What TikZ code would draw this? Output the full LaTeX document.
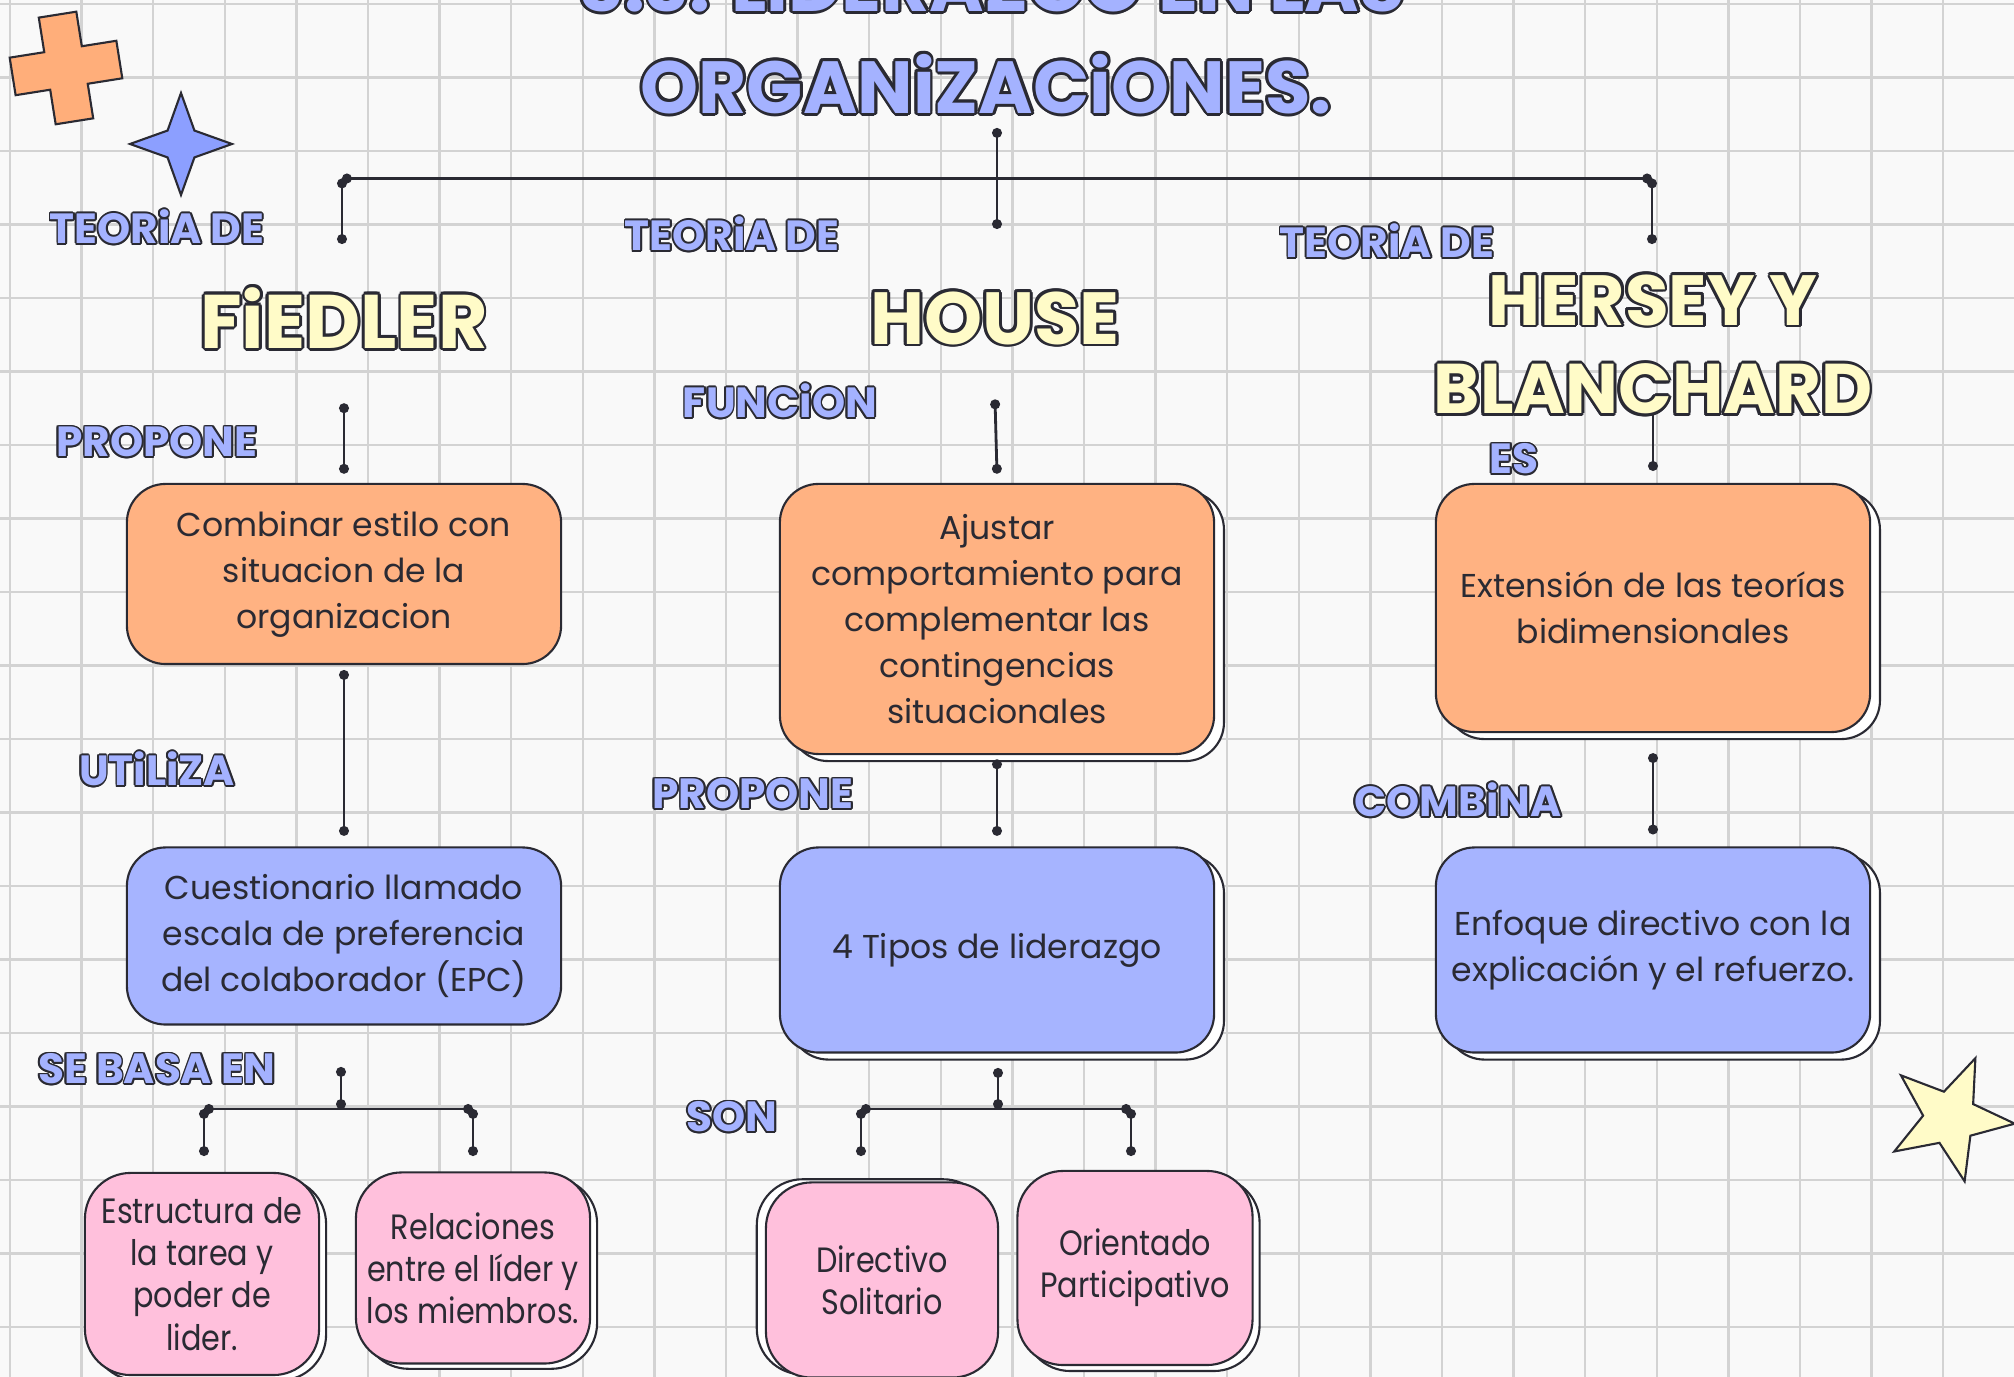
\documentclass[tikz,border=0pt]{standalone}
\usepackage{fontspec}
\setmainfont{Poppins}
\newfontfamily\narrowfont{Poppins}[FakeStretch=0.86]
\usetikzlibrary{positioning, arrows.meta, shadows}
\definecolor{paper}{HTML}{F9F9F9}
\definecolor{gridgray}{HTML}{D3D3D3}
\definecolor{ink}{HTML}{2A2A33}
\definecolor{peach}{HTML}{FFB282}
\definecolor{periwinkle}{HTML}{A6B4FF}
\definecolor{blush}{HTML}{FFC0DC}
\definecolor{butter}{HTML}{FFFBC8}
\definecolor{titleblue}{HTML}{A4B2FF}
\definecolor{starblue}{HTML}{8C9FFF}
\definecolor{crossorange}{HTML}{FFAE7A}
\tikzset{
gridline/.style={draw=gridgray, line width=0.7pt}, % squared paper
link/.style={draw=ink, line width=0.8pt, {Circle[length=2.8pt]}-{Circle[length=2.8pt]}}, % dotted ends
card/.style={draw=ink, line width=0.6pt, rounded corners=11pt, align=center, text=ink,
  font=\fontsize{9.4}{13.1}\selectfont, minimum width=4.34cm, inner sep=0pt},
lifted/.style={drop shadow={fill=white, draw=ink, opacity=1, shadow xshift=2.8pt, shadow yshift=-2pt}},
leaf/.style={card, fill=blush, rounded corners=13pt, minimum width=2.34cm,
  font=\narrowfont\fontsize{10}{12}\selectfont},
tag/.style={font=\bfseries\fontsize{12}{12}\selectfont, text=titleblue, inner sep=0pt},
head/.style={font=\bfseries\fontsize{21}{25}\selectfont, text=butter, inner sep=0pt},
}
% outlined text: name, position, style, outline width, text
\newcommand{\inked}[5]{%
  \foreach \a in {0,30,...,330}
    \node[#3, text=ink] (#1-\a) at ([shift={(\a:#4)}]#2) {#5};
  \node[#3] (#1) at (#2) {#5};}
\begin{document}
\begin{tikzpicture}[x=0.01cm, y=-0.01cm]
\useasboundingbox (0,0) rectangle (2014,1377);
\clip (0,0) rectangle (2014,1377);
\fill[paper] (0,0) rectangle (2014,1377);
\foreach \k in {0,...,27}
  \draw[gridline] ({10+71.6*\k},0) -- ({10+71.6*\k},1377);
\foreach \k in {0,...,18}
  \draw[gridline] (0,{4+73.5*\k}) -- (2014,{4+73.5*\k});

% decorations
\begin{scope}[shift={(66,68)}, rotate=9]
  \draw[draw=ink, fill=crossorange, line width=0.6pt] (19,54) -- (19,19) -- (54,19) -- (54,-19) -- (19,-19) -- (19,-54)
    -- (-19,-54) -- (-19,-19) -- (-54,-19) -- (-54,19) -- (-19,19) -- (-19,54) -- cycle;
\end{scope}
\begin{scope}[shift={(181,144)}]
  \draw[draw=ink, fill=starblue, line width=0.6pt] (0:51) \foreach \a in {0,90,180,270}{ -- (\a+45:19) -- (\a+90:51)} -- cycle;
\end{scope}
\begin{scope}[shift={(1950,1118)}]
  \draw[draw=ink, fill=butter, line width=0.6pt] (-67:65) \foreach \k in {0,...,4}{ -- ({-31+72*\k}:27) -- ({5+72*\k}:65)} -- cycle;
\end{scope}

% hub coordinates
\coordinate (stemT) at (997,128);
\coordinate (stemB) at (997,229);
\coordinate (barL) at (342,178.5);
\coordinate (barR) at (1652,178.5);
\coordinate (dropL) at (342,244);
\coordinate (dropR) at (1652,244);
\coordinate (baseT) at (341,1067);
\coordinate (baseJ) at (341,1109);
\coordinate (baseL) at (204,1109);
\coordinate (baseR) at (473,1109);
\coordinate (baseLd) at (204,1156);
\coordinate (baseRd) at (473,1156);
\coordinate (sonT) at (998,1068);
\coordinate (sonJ) at (998,1109);
\coordinate (sonL) at (861,1109);
\coordinate (sonR) at (1131,1109);
\coordinate (sonLd) at (861,1156);
\coordinate (sonRd) at (1131,1156);

% boxes
\node[card, fill=peach, minimum height=1.80cm] (fiedA) at (344,574) {Combinar estilo con\\situacion de la\\organizacion};
\node[card, fill=periwinkle, minimum height=1.77cm] (fiedB) at (344,936) {Cuestionario llamado\\escala de preferencia\\del colaborador (EPC)};
\node[card, lifted, fill=peach, minimum height=2.70cm] (houseA) at (997,619) {Ajustar\\comportamiento para\\complementar las\\contingencias\\situacionales};
\node[card, lifted, fill=periwinkle, minimum height=2.05cm] (houseB) at (997,950) {4 Tipos de liderazgo};
\node[card, lifted, fill=peach, minimum height=2.48cm] (herseyA) at (1653,608) {Extensión de las teorías\\bidimensionales};
\node[card, lifted, fill=periwinkle, minimum height=2.05cm] (herseyB) at (1653,950) {Enfoque directivo con la\\explicación y el refuerzo.};
\node[leaf, drop shadow={fill=white, draw=ink, opacity=1, shadow xshift=2pt, shadow yshift=-1.5pt}, minimum height=2.02cm] (leaf1) at (202,1274) {Estructura de\\la tarea y\\poder de\\lider.};
\node[leaf, drop shadow={fill=white, draw=ink, opacity=1, shadow xshift=2pt, shadow yshift=-1.5pt}, minimum height=1.91cm] (leaf2) at (473,1268) {Relaciones\\entre el líder y\\los miembros.};
\node[leaf, drop shadow={fill=white, draw=ink, opacity=1, shadow xshift=-2.6pt, shadow yshift=0.9pt}, minimum width=2.32cm, minimum height=1.95cm] (leaf3) at (882,1280) {Directivo\\Solitario};
\node[leaf, drop shadow={fill=white, draw=ink, opacity=1, shadow xshift=2pt, shadow yshift=-1.7pt}, minimum width=2.35cm, minimum height=1.94cm] (leaf4) at (1135,1268) {Orientado\\Participativo};

% connectors
\draw[link] (stemT) -- (stemB);
\draw[link] (barL) -- (barR);
\draw[link] (barL) -- (dropL);
\draw[link] (barR) -- (dropR);
\draw[link] ([yshift=-1.4pt]fiedA.south) -- ([yshift=3pt]fiedB.north);
\draw[link] ([yshift=-1.2pt]houseA.south) -- ([yshift=3pt]houseB.north);
\draw[link] ([yshift=-5.7pt]herseyA.south) -- ([yshift=3.4pt]herseyB.north);
\draw[link] (baseT) -- (baseJ);
\draw[link] (baseL) -- (baseR);
\draw[link] (baseL) -- (baseLd);
\draw[link] (baseR) -- (baseRd);
\draw[link] (sonT) -- (sonJ);
\draw[link] (sonL) -- (sonR);
\draw[link] (sonL) -- (sonLd);
\draw[link] (sonR) -- (sonRd);

% title and headings
\inked{title1}{992,-18}{head, text=titleblue}{0.8pt}{3.3. LiDERAZGO EN LAS}
\inked{title2}{986,84}{head, text=titleblue}{0.8pt}{ORGANiZACiONES.}
\inked{fied}{344,318}{head, font=\bfseries\fontsize{21.6}{25}\selectfont}{0.8pt}{FiEDLER}
\inked{house}{995,318}{head}{0.8pt}{HOUSE}
\draw[link] ([yshift=2pt]herseyA.north |- 0,412) -- ([yshift=3.4pt]herseyA.north);
\inked{hersey1}{1653,300}{head, font=\bfseries\fontsize{20.2}{25}\selectfont}{0.8pt}{HERSEY Y}
\inked{hersey2}{1653,389}{head, font=\bfseries\fontsize{20}{25}\selectfont}{0.8pt}{BLANCHARD}
\draw[link] ([yshift=-15.4pt]fied.south) -- ([yshift=2.6pt]fiedA.north);
\draw[link] ([yshift=-15.4pt]house.south) -- ([yshift=2.6pt]houseA.north);

% small labels
\inked{teoA}{157,227}{tag}{0.5pt}{TEORiA DE}
\inked{teoB}{732,234}{tag}{0.5pt}{TEORiA DE}
\inked{teoC}{1387,241}{tag}{0.5pt}{TEORiA DE}
\inked{propA}{157,442}{tag}{0.5pt}{PROPONE}
\inked{func}{780,401}{tag}{0.5pt}{FUNCiON}
\inked{es}{1514,459}{tag}{0.5pt}{ES}
\inked{util}{157,769}{tag}{0.5pt}{UTiLiZA}
\inked{propB}{753,794}{tag}{0.5pt}{PROPONE}
\inked{comb}{1458,800}{tag}{0.5pt}{COMBiNA}
\inked{basa}{157,1069}{tag}{0.5pt}{SE BASA EN}
\inked{son}{732,1117}{tag}{0.5pt}{SON}
\end{tikzpicture}
\end{document}
